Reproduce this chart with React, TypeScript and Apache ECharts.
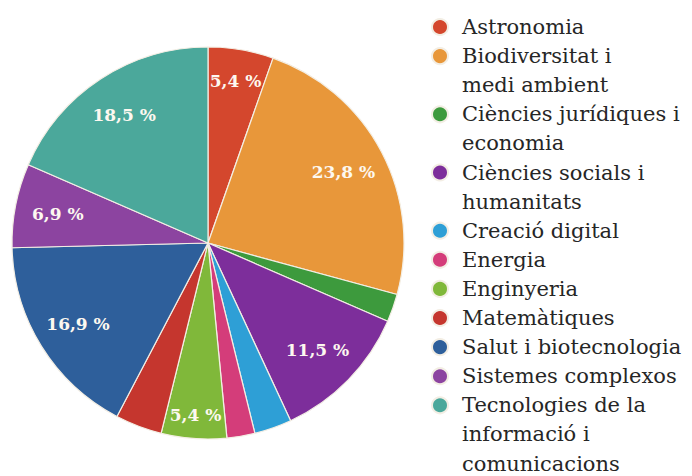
import React, { useEffect, useRef } from "react";
import * as echarts from "echarts";

const categories = [
  "Astronomia",
  "Biodiversitat i medi ambient",
  "Ciències jurídiques i economia",
  "Ciències socials i humanitats",
  "Creació digital",
  "Energia",
  "Enginyeria",
  "Matemàtiques",
  "Salut i biotecnologia",
  "Sistemes complexos",
  "Tecnologies de la informació i comunicacions",
];

const counts = [7, 31, 3, 15, 4, 3, 7, 5, 22, 9, 24];

const colors = [
  "#d4472d",
  "#e8973a",
  "#3d9a3d",
  "#7d2e9b",
  "#2e9fd6",
  "#d43d7a",
  "#80b83a",
  "#c5362e",
  "#2e5f9b",
  "#8c44a0",
  "#4ba89b",
];

const legendLabels = [
  "Astronomia",
  "Biodiversitat i\nmedi ambient",
  "Ciències jurídiques i\neconomia",
  "Ciències socials i\nhumanitats",
  "Creació digital",
  "Energia",
  "Enginyeria",
  "Matemàtiques",
  "Salut i biotecnologia",
  "Sistemes complexos",
  "Tecnologies de la\ninformació i\ncomunicacions",
];

const labelsMid = [
  "Biodiversitat i medi ambient",
  "Ciències socials i humanitats",
  "Salut i biotecnologia",
  "Sistemes complexos",
  "Tecnologies de la informació i comunicacions",
];
const labelsAstro = ["Astronomia"];
const labelsEng = ["Enginyeria"];

const FONT = "DejaVu Serif";

export default function App() {
  const ref = useRef<HTMLDivElement>(null);
  useEffect(() => {
    if (!ref.current) return;
    const chart = echarts.init(ref.current, undefined, { renderer: "svg" });
    const total = counts.reduce((a, b) => a + b, 0);
    const fmt = (p: any) =>
      ((p.value / total) * 100).toFixed(1).replace(".", ",") + " %";

    const L = 29.1;
    const legends: any[] = [];
    let row = 0;
    categories.forEach((name, i) => {
      legendLabels[i].split("\n").forEach((line, j) => {
        const yc = 27 + L * row;
        row += 1;
        legends.push({
          data: [name],
          orient: "vertical",
          left: 431,
          top: yc - L / 2,
          padding: 0,
          itemWidth: 34,
          itemHeight: 16,
          icon: "circle",
          selectedMode: false,
          itemStyle: j === 0 ? {} : { color: "transparent", opacity: 0 },
          formatter: () => line,
          textStyle: {
            fontFamily: FONT,
            fontSize: 21,
            lineHeight: L,
            color: "#262626",
          },
        });
      });
    });

    const baseData = categories.map((name, i) => ({
      name,
      value: counts[i],
      itemStyle: { color: colors[i] },
    }));

    const labelSeries = (radius: number[], shown: string[]) => ({
      type: "pie",
      center: [208, 243],
      radius,
      startAngle: 90,
      silent: true,
      itemStyle: { color: "transparent", borderWidth: 0 },
      labelLine: { show: false },
      data: categories.map((name, i) => ({
        name,
        value: counts[i],
        itemStyle: { color: "transparent" },
        label: { show: shown.includes(name) },
      })),
      label: {
        position: "inside",
        formatter: fmt,
        color: "#fdf8f0",
        fontFamily: FONT,
        fontWeight: "bold",
        fontSize: 17,
      },
    });

    chart.setOption({
      animation: false,
      backgroundColor: "#ffffff",
      legend: legends,
      series: [
        {
          type: "pie",
          center: [208, 243],
          radius: [0, 196],
          startAngle: 90,
          silent: true,
          label: { show: false },
          labelLine: { show: false },
          itemStyle: { borderColor: "#f3eee4", borderWidth: 1.2 },
          data: baseData,
        },
        labelSeries([104, 196], labelsMid),
        labelSeries([126, 196], labelsAstro),
        labelSeries([142, 196], labelsEng),
      ],
    });
    return () => chart.dispose();
  }, []);
  return (
    <div
      ref={ref}
      style={{ position: "fixed", left: 0, top: 0, width: 692, height: 476 }}
    />
  );
}
